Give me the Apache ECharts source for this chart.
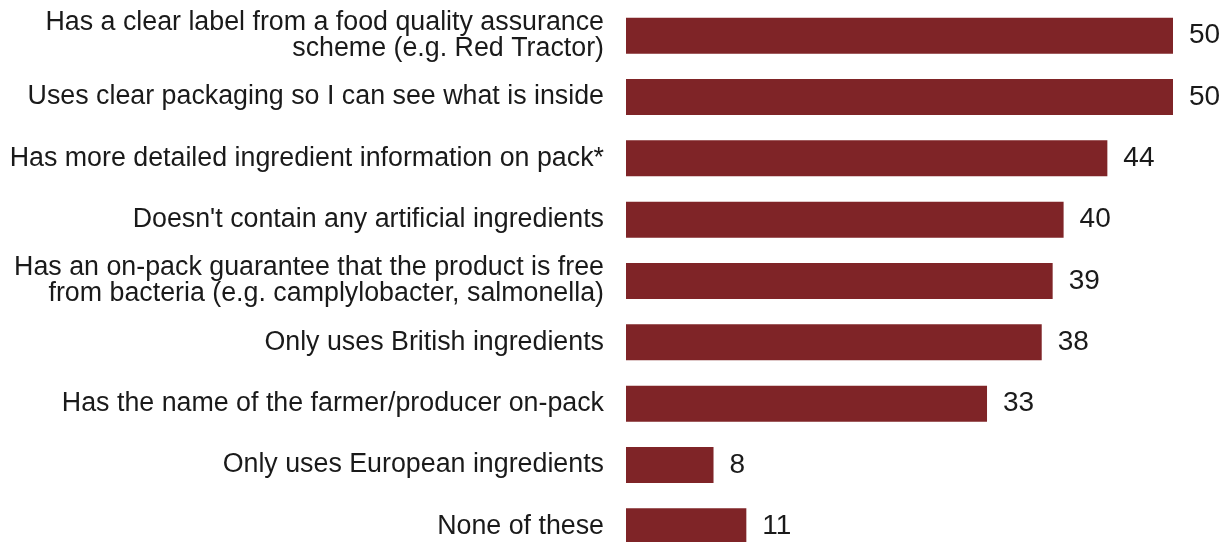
<!DOCTYPE html>
<html>
<head>
<meta charset="utf-8">
<script src="https://cdn.jsdelivr.net/npm/echarts@6/dist/echarts.min.js"></script>
<style>
html,body{margin:0;padding:0;background:#fff;}
#chart{width:1230px;height:542px;}
</style>
</head>
<body>
<div id="chart"></div>
<script>
const categories = [
  "Has a clear label from a food quality assurance\nscheme (e.g. Red Tractor)",
  "Uses clear packaging so I can see what is inside",
  "Has more detailed ingredient information on pack*",
  "Doesn't contain any artificial ingredients",
  "Has an on-pack guarantee that the product is free\nfrom bacteria (e.g. camplylobacter, salmonella)",
  "Only uses British ingredients",
  "Has the name of the farmer/producer on-pack",
  "Only uses European ingredients",
  "None of these"
];
const values = [50, 50, 44, 40, 39, 38, 33, 8, 11];

const chart = echarts.init(document.getElementById('chart'), null, {renderer: 'canvas'});
chart.setOption({
  animation: false,
  backgroundColor: '#ffffff',
  grid: {left: 626, right: 57, top: 5, height: 552, containLabel: false, outerBoundsMode: 'none'},
  xAxis: {
    type: 'value', min: 0, max: 50,
    show: false
  },
  yAxis: {
    type: 'category',
    data: categories,
    inverse: true,
    axisLine: {show: false},
    axisTick: {show: false},
    splitLine: {show: false},
    axisLabel: {
      margin: 22,
      color: '#1a1a1a',
      fontFamily: 'Liberation Sans, Arial, sans-serif',
      fontSize: 26.8,
      lineHeight: 26,
      align: 'right'
    }
  },
  series: [{
    type: 'bar',
    data: values,
    barWidth: 36,
    itemStyle: {color: '#7f2427'},
    label: {
      show: true,
      position: 'right',
      distance: 16,
      color: '#1a1a1a',
      fontFamily: 'Liberation Sans, Arial, sans-serif',
      fontSize: 28
    }
  }]
});
</script>
</body>
</html>
